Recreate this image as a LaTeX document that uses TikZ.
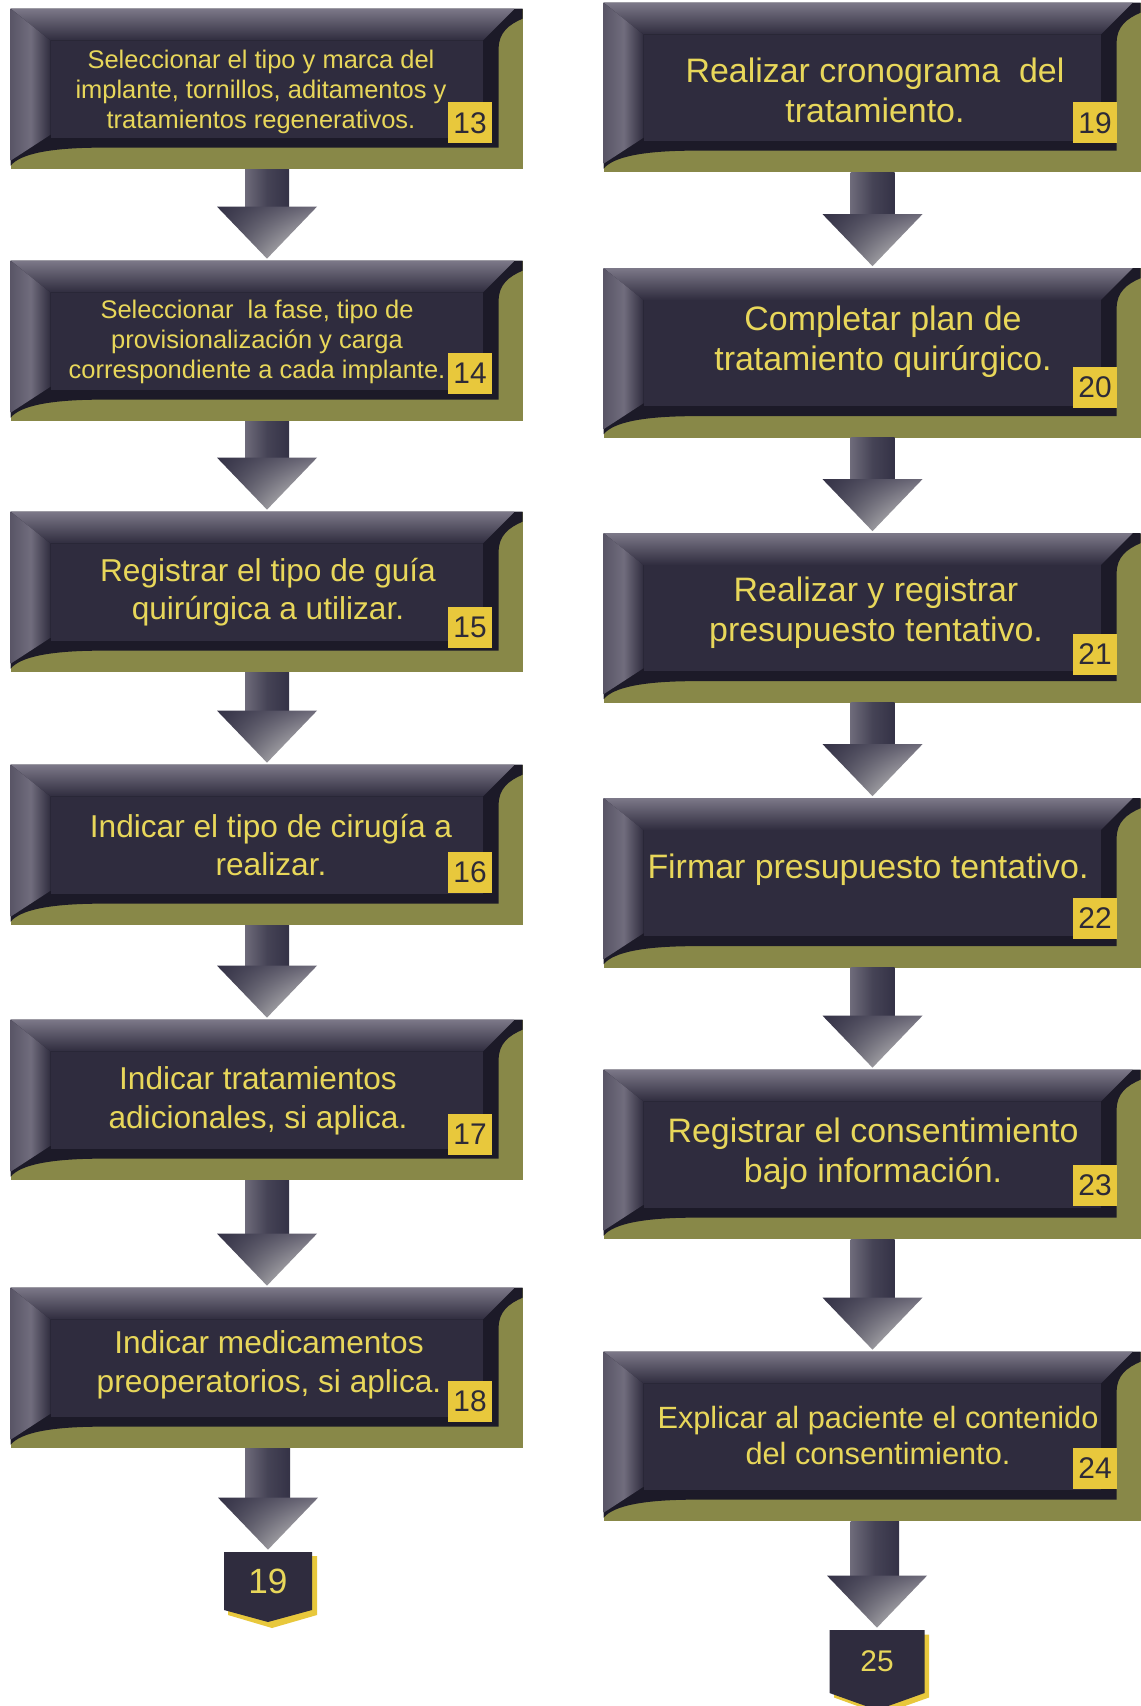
\documentclass[tikz,border=0pt]{standalone}
\usepackage{fontspec}
\setmainfont{Liberation Sans}
\usetikzlibrary{calc,shadings}
\definecolor{olv}{RGB}{136,136,72}
\definecolor{edgedk}{RGB}{28,26,40}
\definecolor{face}{RGB}{47,44,62}
\definecolor{bvl}{RGB}{124,120,136}
\definecolor{txty}{RGB}{232,215,90}
\definecolor{badgey}{RGB}{232,200,60}
\definecolor{badgetxt}{RGB}{45,42,55}
\definecolor{arrdk}{RGB}{52,50,70}
\definecolor{arrmd}{RGB}{110,107,122}
\definecolor{arrlt}{RGB}{240,240,232}
\tikzset{
 bx/.style 2 args={rectangle, inner sep=0pt, minimum width=#1*0.02cm, minimum height=#2*0.02cm, fill=olv},
 bxL/.style={bx={512}{160}},
 bxR/.style={bx={537}{169}},
 lbl/.style={text=txty, align=center, inner sep=0pt},
 badge/.style={rectangle, fill=badgey, inner sep=0pt, minimum width=44*0.02cm, minimum height=41*0.02cm, text=badgetxt, font=\fontsize{17}{17}\selectfont},
 conn/.style={rectangle, inner sep=0pt, text=txty},
}
% bevel decoration drawn over a box node: #1 node, #2 width, #3 height
\newcommand{\bevel}[3]{%
 \begin{scope}[shift={(#1.north west)}]
  \fill[edgedk] (0,0) -- (#2,0) -- (#2,10) .. controls (#2-14,16) and (#2-24,24) .. (#2-24,40) -- (#2-24,#3-21) -- (92,#3-21) .. controls (40,#3-21) and (10,#3-15) .. (0,#3-3) -- cycle;
  \shade[top color=bvl, bottom color=face] (0,0) -- (#2-8,0) -- (#2-40,32) -- (40,32) -- cycle;
  \shade[left color=bvl!55!face, right color=face, middle color=bvl!85!face] (0,0) -- (40,32) -- (40,#3-34) -- (0,#3-8) -- cycle;
  \fill[face] (40,32) rectangle (#2-40,#3-31);
 \end{scope}}
\newcommand{\flowarr}[2]{%
 \shade[left color=arrmd, right color=arrdk, middle color=arrdk!70!arrmd] ($(#1.south)+(-22,0)$) rectangle ($(#2.north)+(22,-52)$);
 \shade[upper left=arrdk, upper right=arrmd, lower left=arrdk!80!arrmd, lower right=arrlt] ($(#2.north)+(-50,-54)$) -- ($(#2.north)+(50,-54)$) -- ($(#2.north)+(0,-2)$) -- cycle;
}
\begin{document}
\begin{tikzpicture}[x=0.02cm,y=-0.02cm]
\useasboundingbox[fill=white] (0,0) rectangle (1141,1706);

% left column boxes
\node[bxL] (n13) at (267,89) {};
\node[bxL] (n14) at (267,341) {};
\node[bxL] (n15) at (267,592) {};
\node[bxL] (n16) at (267,845) {};
\node[bxL] (n17) at (267,1100) {};
\node[bxL] (n18) at (267,1368) {};
% right column boxes
\node[bxR] (n19) at (872.5,87.5) {};
\node[bxR] (n20) at (872.5,353) {};
\node[bxR] (n21) at (872.5,618) {};
\node[bxR] (n22) at (872.5,883) {};
\node[bxR] (n23) at (872.5,1154.5) {};
\node[bxR] (n24) at (872.5,1436.5) {};
\foreach \n in {n13,n14,n15,n16,n17,n18} {\bevel{\n}{512}{160}}
\foreach \n in {n19,n20,n21,n22,n23,n24} {\bevel{\n}{537}{169}}

% texts
\node[lbl, font=\fontsize{14.5}{17.3}\selectfont] (t13) at (261,92) {Seleccionar el tipo y marca del\\implante, tornillos, aditamentos y\\tratamientos regenerativos.};
\node[lbl, font=\fontsize{14.5}{17.3}\selectfont] (t14) at (257,342) {Seleccionar\ \ la fase, tipo de\\provisionalización y carga\\correspondiente a cada implante.};
\node[lbl, font=\fontsize{18}{22}\selectfont] (t15) at (268,592) {Registrar el tipo de guía\\quirúrgica a utilizar.};
\node[lbl, font=\fontsize{18}{22}\selectfont] (t16) at (271,845) {Indicar el tipo de cirugía a\\realizar.};
\node[lbl, font=\fontsize{18}{22}\selectfont] (t17) at (258,1100.5) {Indicar tratamientos\\adicionales, si aplica.};
\node[lbl, font=\fontsize{18}{22}\selectfont] (t18) at (269,1365) {Indicar medicamentos\\preoperatorios, si aplica.};
\node[lbl, font=\fontsize{19.3}{22.7}\selectfont] (t19) at (875,90) {Realizar cronograma\ \ del\\tratamiento.};
\node[lbl, font=\fontsize{19.3}{22.7}\selectfont] (t20) at (883,342) {Completar plan de\\tratamiento quirúrgico.};
\node[lbl, font=\fontsize{19.3}{22.7}\selectfont] (t21) at (876,613) {Realizar y registrar\\presupuesto tentativo.};
\node[lbl, font=\fontsize{19.3}{22.7}\selectfont] (t22) at (868,870) {Firmar presupuesto tentativo.};
\node[lbl, font=\fontsize{19.3}{22.7}\selectfont] (t23) at (873,1154) {Registrar el consentimiento\\bajo información.};
\node[lbl, font=\fontsize{17.5}{21}\selectfont] (t24) at (878,1435.5) {Explicar al paciente el contenido\\del consentimiento.};

% badges
\node[badge] (b13) at (470,123) {13};
\node[badge] (b14) at (470,373) {14};
\node[badge] (b15) at (470,627) {15};
\node[badge] (b16) at (470,872) {16};
\node[badge] (b17) at (470,1134) {17};
\node[badge] (b18) at (470,1401) {18};
\node[badge] (b19) at (1095,123) {19};
\node[badge] (b20) at (1095,387) {20};
\node[badge] (b21) at (1095,654) {21};
\node[badge] (b22) at (1095,918) {22};
\node[badge] (b23) at (1095,1185) {23};
\node[badge] (b24) at (1095,1468) {24};

% off-page connectors
\coordinate (p19) at (268,1581);
\fill[badgey] ($(p19)+(-40,-25)$) -- ($(p19)+(49,-25)$) -- ($(p19)+(49,34)$) -- ($(p19)+(4,47)$) -- ($(p19)+(-40,34)$) -- cycle;
\fill[face] ($(p19)+(-44,-29)$) -- ($(p19)+(44,-29)$) -- ($(p19)+(44,29)$) -- ($(p19)+(0,41)$) -- ($(p19)+(-44,29)$) -- cycle;
\node[conn, minimum width=88*0.02cm, minimum height=58*0.02cm, font=\fontsize{20}{20}\selectfont] (c19) at (p19) {19};

\coordinate (p25) at (877,1661.5);
\fill[badgey] ($(p25)+(-43,-27)$) -- ($(p25)+(52,-27)$) -- ($(p25)+(52,36)$) -- ($(p25)+(4,53)$) -- ($(p25)+(-43,36)$) -- cycle;
\fill[face] ($(p25)+(-47.5,-31.5)$) -- ($(p25)+(47.5,-31.5)$) -- ($(p25)+(47.5,31.5)$) -- ($(p25)+(0,48.5)$) -- ($(p25)+(-47.5,31.5)$) -- cycle;
\node[conn, minimum width=95*0.02cm, minimum height=63*0.02cm, font=\fontsize{17}{17}\selectfont] (c25) at (p25) {25};

% arrows
\flowarr{n13}{n14}
\flowarr{n14}{n15}
\flowarr{n15}{n16}
\flowarr{n16}{n17}
\flowarr{n17}{n18}
\flowarr{n18}{c19}
\flowarr{n19}{n20}
\flowarr{n20}{n21}
\flowarr{n21}{n22}
\flowarr{n22}{n23}
\flowarr{n23}{n24}
\flowarr{n24}{c25}
\end{tikzpicture}
\end{document}
